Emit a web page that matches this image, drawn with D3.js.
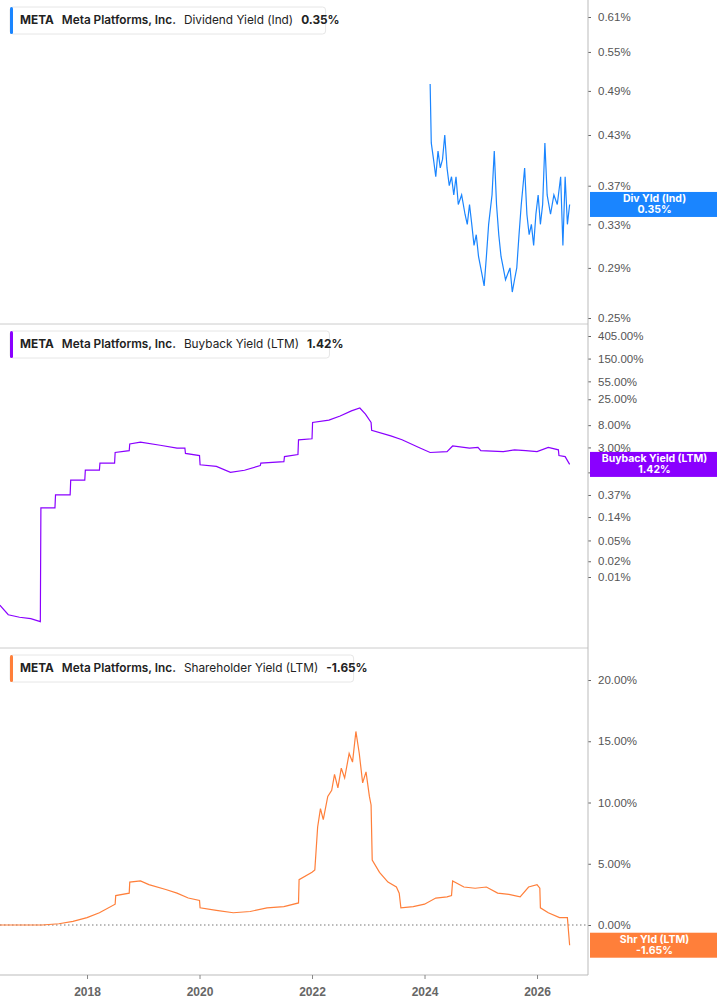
<!DOCTYPE html>
<html><head><meta charset="utf-8">
<script src="https://cdn.jsdelivr.net/npm/d3@7"></script>
<style>body{margin:0;background:#fff;font-family:Inter,"Noto Sans",sans-serif;}</style>
</head><body>
<script>
// year (decimal), value in %
const divYield = [[2024.10,0.50],[2024.12,0.42],[2024.16,0.40],[2024.20,0.38],[2024.24,0.41],[2024.28,0.39],[2024.32,0.40],[2024.36,0.43],[2024.40,0.39],[2024.44,0.37],[2024.48,0.38],[2024.52,0.36],[2024.56,0.38],[2024.60,0.35],[2024.66,0.36],[2024.72,0.34],[2024.76,0.33],[2024.80,0.35],[2024.84,0.33],[2024.88,0.31],[2024.92,0.32],[2024.96,0.30],[2025.02,0.285],[2025.06,0.275],[2025.10,0.30],[2025.14,0.33],[2025.20,0.36],[2025.24,0.41],[2025.28,0.35],[2025.32,0.32],[2025.36,0.30],[2025.40,0.29],[2025.44,0.28],[2025.48,0.285],[2025.52,0.29],[2025.56,0.27],[2025.60,0.28],[2025.64,0.29],[2025.68,0.32],[2025.72,0.35],[2025.78,0.39],[2025.82,0.34],[2025.86,0.32],[2025.90,0.33],[2025.94,0.31],[2025.98,0.34],[2026.02,0.36],[2026.06,0.33],[2026.10,0.35],[2026.14,0.42],[2026.18,0.36],[2026.24,0.34],[2026.30,0.36],[2026.36,0.35],[2026.42,0.38],[2026.46,0.31],[2026.50,0.38],[2026.54,0.33],[2026.58,0.35]];
const buybackYield = [[2016.45,0.0029],[2016.60,0.0019],[2016.80,0.0017],[2017.00,0.0016],[2017.17,0.0014],[2017.18,0.21],[2017.43,0.21],[2017.44,0.37],[2017.70,0.37],[2017.71,0.71],[2017.96,0.71],[2017.97,1.1],[2018.22,1.1],[2018.23,1.5],[2018.49,1.5],[2018.50,2.4],[2018.75,2.6],[2018.76,3.5],[2018.95,3.8],[2019.30,3.3],[2019.60,2.9],[2019.74,2.9],[2019.75,2.3],[2020.00,2.1],[2020.01,1.4],[2020.30,1.3],[2020.55,1.0],[2020.80,1.1],[2021.08,1.35],[2021.09,1.5],[2021.50,1.6],[2021.51,2.0],[2021.75,2.2],[2021.76,4.2],[2022.00,4.4],[2022.01,9],[2022.30,10],[2022.50,12],[2022.70,15],[2022.85,17],[2022.95,13],[2023.05,9],[2023.06,6.4],[2023.40,5.0],[2023.60,4.2],[2023.90,3.0],[2024.10,2.4],[2024.40,2.5],[2024.50,3.2],[2024.80,2.9],[2024.95,3.0],[2025.00,2.6],[2025.40,2.5],[2025.60,2.7],[2025.80,2.6],[2026.00,2.5],[2026.20,3.0],[2026.38,2.7],[2026.39,2.1],[2026.50,2.0],[2026.58,1.42]];
const shareholderYield = [[2016.45,0],[2017.20,0],[2017.50,0.1],[2017.75,0.3],[2018.00,0.6],[2018.22,1.0],[2018.50,1.7],[2018.51,2.4],[2018.75,2.6],[2018.76,3.5],[2018.95,3.6],[2019.10,3.3],[2019.40,2.9],[2019.60,2.6],[2019.80,2.2],[2020.00,2.0],[2020.01,1.4],[2020.30,1.2],[2020.60,1.0],[2020.90,1.1],[2021.20,1.4],[2021.50,1.5],[2021.76,1.8],[2021.77,3.7],[2022.00,4.3],[2022.05,4.5],[2022.10,8.0],[2022.15,9.5],[2022.20,8.6],[2022.28,10.5],[2022.35,11.0],[2022.40,12.3],[2022.46,11.2],[2022.52,12.8],[2022.58,12.0],[2022.66,14.0],[2022.72,13.3],[2022.78,15.8],[2022.84,14.0],[2022.90,11.6],[2022.96,12.5],[2023.02,10.5],[2023.05,9.8],[2023.07,5.3],[2023.20,4.3],[2023.35,3.5],[2023.50,3.1],[2023.55,2.6],[2023.58,1.4],[2023.80,1.5],[2024.00,1.7],[2024.20,2.2],[2024.40,2.3],[2024.48,2.4],[2024.50,3.6],[2024.70,3.1],[2024.90,3.0],[2025.10,3.1],[2025.30,2.6],[2025.50,2.5],[2025.70,2.3],[2025.85,3.1],[2026.00,3.3],[2026.05,3.0],[2026.06,1.4],[2026.20,1.0],[2026.40,0.6],[2026.54,0.6],[2026.58,-1.65]];

const divTicks = [0.25,0.29,0.33,0.37,0.43,0.49,0.55,0.61];
const buyTicks = [0.01,0.02,0.05,0.14,0.37,1,3,8,25,55,150,405];
const shrTicks = [0,5,10,15,20];
const yearTicks = [2018,2020,2022,2024,2026];

const W = 717, H = 1005, plotR = 588;
const svg = d3.select("body").append("svg").attr("width", W).attr("height", H)
  .style("font-family", "Inter, 'Noto Sans', sans-serif");

const x = d3.scaleLinear().domain([2016.453, 2016.453 + plotR / 56.25]).range([0, plotR]);

const panels = [
  { data: divYield, y: d3.scaleLog().domain([0.25, 0.61]).range([318, 17]), ticks: divTicks,
    color: "#1a85ff", top: 0,
    legend: "Dividend Yield (Ind)", val: "0.35%", tag: ["Div Yld (Ind)", "0.35%"], last: 0.35 },
  { data: buybackYield, y: d3.scaleLog().domain([0.01, 405]).range([577, 336]), ticks: buyTicks,
    color: "#8a00ff", top: 324,
    legend: "Buyback Yield (LTM)", val: "1.42%", tag: ["Buyback Yield (LTM)", "1.42%"], last: 1.42 },
  { data: shareholderYield, y: d3.scaleLinear().domain([0, 20]).range([925, 680]), ticks: shrTicks,
    color: "#ff7f3a", top: 648,
    legend: "Shareholder Yield (LTM)", val: "-1.65%", tag: ["Shr Yld (LTM)", "-1.65%"], last: -1.65 }
];

panels.forEach((p, i) => {
  const g = svg.append("g");
  if (i > 0) g.append("line").attr("x1", 0).attr("x2", plotR).attr("y1", p.top).attr("y2", p.top)
    .attr("stroke", "#ccc");
  const tagY = p.y(p.last);
  const ax = g.append("g").attr("transform", `translate(${plotR},0)`)
    .call(d3.axisRight(p.y).tickValues(p.ticks).tickFormat(d => d.toFixed(2) + "%").tickSize(3).tickPadding(7));
  ax.select(".domain").remove();
  ax.selectAll(".tick line").attr("stroke", "#666");
  ax.selectAll("text").attr("fill", "#555").attr("font-size", 11.5);
  // hide tick labels sitting under the value tag
  ax.selectAll(".tick").filter(d => Math.abs(p.y(d) - tagY) < 13).select("text").remove();
  if (i === 2) g.append("line").attr("x1", 0).attr("x2", plotR).attr("y1", p.y(0)).attr("y2", p.y(0))
    .attr("stroke", "#777").attr("stroke-dasharray", "1.5,2.5");
  g.append("path").datum(p.data)
    .attr("d", d3.line().x(d => x(d[0])).y(d => p.y(d[1])))
    .attr("fill", "none").attr("stroke", p.color).attr("stroke-width", 1.2);
  // legend
  const lg = g.append("g").attr("transform", `translate(10,${p.top + 7})`);
  const t = lg.append("text").attr("x", 10).attr("y", 17).attr("font-size", 11.8).attr("fill", "#222");
  t.append("tspan").attr("font-weight", 700).text("META");
  t.append("tspan").attr("dx", 8).attr("font-weight", 600).text("Meta Platforms, Inc.");
  t.append("tspan").attr("dx", 8).text(p.legend);
  t.append("tspan").attr("dx", 8).attr("font-weight", 700).text(p.val);
  const bw = t.node().getComputedTextLength() + 20;
  lg.insert("rect", "text").attr("width", bw).attr("height", 27).attr("rx", 3)
    .attr("fill", "#fff").attr("stroke", "#e6e6e6");
  lg.append("rect").attr("width", 3).attr("height", 27).attr("rx", 1.5).attr("fill", p.color);
  // value tag
  const tg = g.append("g").attr("transform", `translate(${plotR + 2},${tagY - 12.5})`);
  tg.append("rect").attr("width", W - plotR - 2).attr("height", 25).attr("fill", p.color);
  tg.selectAll("text").data(p.tag).join("text")
    .attr("x", (W - plotR) / 2).attr("y", (d, k) => 10 + k * 11).attr("text-anchor", "middle")
    .attr("fill", "#fff").attr("font-size", 10.5).attr("font-weight", 700).text(d => d);
});

svg.append("line").attr("x1", plotR).attr("x2", plotR).attr("y1", 0).attr("y2", 975).attr("stroke", "#bbb");
const xa = svg.append("g").attr("transform", "translate(0,975)")
  .call(d3.axisBottom(x).tickValues(yearTicks).tickFormat(d3.format("d")).tickSize(4).tickPadding(8));
xa.select(".domain").attr("d", `M0,0H${plotR}`).attr("stroke", "#bbb");
xa.selectAll(".tick line").attr("stroke", "#888");
xa.selectAll("text").attr("fill", "#666").attr("font-size", 12).attr("font-weight", 700);
</script>
</body></html>
